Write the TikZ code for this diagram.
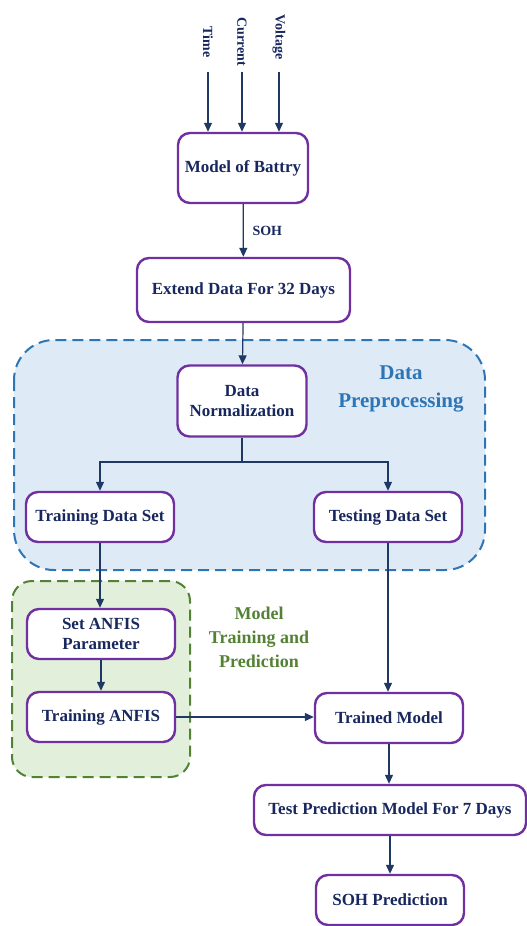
\documentclass[tikz,border=0pt]{standalone}
\usepackage{fontspec}
\setmainfont{Liberation Serif}
\usetikzlibrary{arrows.meta}

\definecolor{boxpurple}{RGB}{112,48,160}
\definecolor{navytext}{RGB}{24,40,94}
\definecolor{navyline}{RGB}{31,56,100}
\definecolor{prepline}{RGB}{46,117,182}
\definecolor{prepfill}{RGB}{222,235,247}
\definecolor{trainline}{RGB}{84,130,53}
\definecolor{trainfill}{RGB}{226,239,218}

\tikzset{
	stepbox/.style={draw=boxpurple, line width=1.2pt, rounded corners=6pt, fill=white,
		align=center, text=navytext, font=\bfseries\fontsize{8.5}{10}\selectfont,
		minimum height=25pt, minimum width=74pt, inner sep=2pt},
	flow/.style={draw=navyline, line width=0.6pt, -{Triangle[width=4pt,length=4.5pt]}},
	smalllabel/.style={text=navytext, font=\bfseries\fontsize{7}{8}\selectfont},
	zone/.style={line width=1pt, dash pattern=on 5.5pt off 3pt},
}

\begin{document}
\begin{tikzpicture}[x=0.5pt, y=-0.5pt]
	\useasboundingbox (0,0) rectangle (526,926);

	% background zones
	\draw[zone, draw=prepline, fill=prepfill, rounded corners=20pt] (14,340) rectangle (485,570);
	\draw[zone, draw=trainline, fill=trainfill, rounded corners=10pt] (12,581) rectangle (190,777);
	\node[text=prepline, align=center, font=\bfseries\fontsize{10.5}{14}\selectfont] (preplabel) at (401,389) {Data\\Preprocessing};
	\node[text=trainline, align=center, font=\bfseries\fontsize{9}{12}\selectfont] (trainlabel) at (259,637) {Model\\Training and\\Prediction};

	% inputs
	\node[smalllabel, rotate=-90] (time) at (208,42) {Time};
	\node[smalllabel, rotate=-90] (current) at (242,42) {Current};
	\node[smalllabel, rotate=-90] (voltage) at (279,37) {Voltage};
	\coordinate (timein) at (208,72);
	\coordinate (currentin) at (242,72);
	\coordinate (voltagein) at (279,72);

	% boxes
	\node[stepbox, minimum width=65pt, minimum height=35pt] (battery) at (243,168) {Model of Battry};
	\node[stepbox, minimum width=106.5pt, minimum height=32pt] (extend) at (243.5,290) {Extend Data For 32 Days};
	\node[stepbox, minimum width=64.5pt, minimum height=35.5pt] (norm) at (242,401) {Data\\Normalization};
	\node[stepbox] (trainset) at (100,517) {Training Data Set};
	\node[stepbox] (testset) at (388,517) {Testing Data Set};
	\node[stepbox] (setanfis) at (101,634) {Set ANFIS\\Parameter};
	\node[stepbox] (trainanfis) at (101,717) {Training ANFIS};
	\node[stepbox] (trained) at (389,718) {Trained Model};
	\node[stepbox, minimum width=136pt] (testpred) at (390,810) {Test Prediction Model For 7 Days};
	\node[stepbox] (sohpred) at (390,900) {SOH Prediction};

	% connectors
	\draw[flow] (timein) -- (timein |- battery.north);
	\draw[flow] (currentin) -- (currentin |- battery.north);
	\draw[flow] (voltagein) -- (voltagein |- battery.north);
	\draw[flow] (battery) -- node[smalllabel, right=1pt] (soh) {SOH} (extend);
	\draw[flow] (extend) -- (norm);
	\coordinate (split) at (242,462);
	\draw[draw=navyline, line width=0.6pt] (norm) -- (split);
	\draw[flow] (split) -| (trainset);
	\draw[flow] (split) -| (testset);
	\draw[flow] (trainset.south) -- (trainset.south |- setanfis.north);
	\draw[flow] (setanfis) -- (trainanfis);
	\draw[flow] (testset.south) -- (testset.south |- trained.north);
	\draw[flow] (trainanfis.east) -- (trainanfis.east -| trained.west);
	\draw[flow] (trained.south) -- (trained.south |- testpred.north);
	\draw[flow] (testpred.south) -- (testpred.south |- sohpred.north);
\end{tikzpicture}
\end{document}
